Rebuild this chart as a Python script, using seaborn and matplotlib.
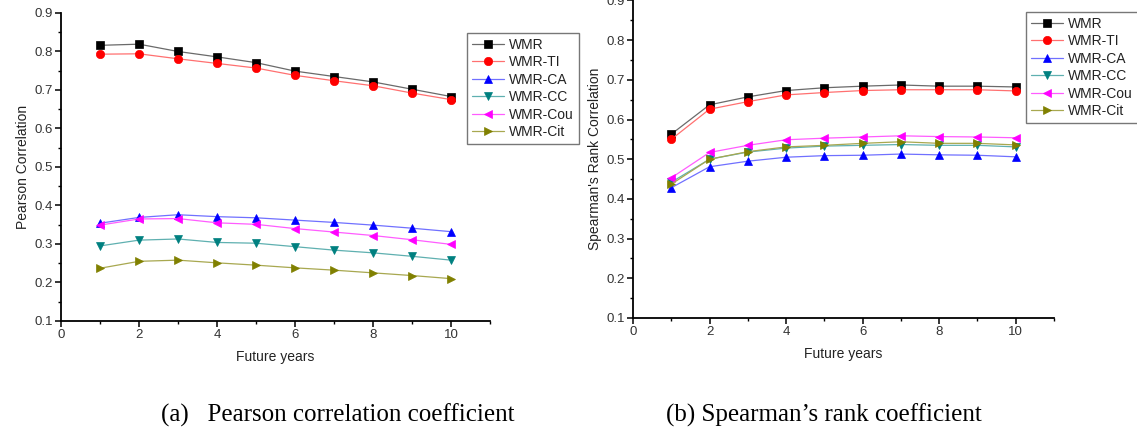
import numpy as np
import pandas as pd
import matplotlib
matplotlib.use("Agg")
import matplotlib.pyplot as plt
import seaborn as sns
from matplotlib.ticker import MultipleLocator

years = [1, 2, 3, 4, 5, 6, 7, 8, 9, 10]
series_names = ["WMR", "WMR-TI", "WMR-CA", "WMR-CC", "WMR-Cou", "WMR-Cit"]

# (a) Pearson correlation
pearson_wmr = [0.816, 0.819, 0.800, 0.786, 0.771, 0.749, 0.735, 0.721, 0.702, 0.683]
pearson_ti = [0.793, 0.794, 0.781, 0.769, 0.757, 0.738, 0.724, 0.711, 0.692, 0.675]
pearson_ca = [0.354, 0.369, 0.376, 0.371, 0.368, 0.362, 0.356, 0.349, 0.341, 0.332]
pearson_cc = [0.295, 0.310, 0.313, 0.304, 0.302, 0.293, 0.284, 0.277, 0.268, 0.258]
pearson_cou = [0.349, 0.365, 0.366, 0.355, 0.351, 0.340, 0.331, 0.322, 0.311, 0.299]
pearson_cit = [0.237, 0.255, 0.258, 0.251, 0.245, 0.238, 0.232, 0.225, 0.218, 0.210]

# (b) Spearman's rank correlation
spearman_wmr = [0.563, 0.637, 0.657, 0.673, 0.680, 0.684, 0.687, 0.684, 0.684, 0.682]
spearman_ti = [0.550, 0.626, 0.645, 0.662, 0.668, 0.673, 0.675, 0.675, 0.675, 0.672]
spearman_ca = [0.428, 0.481, 0.495, 0.505, 0.509, 0.510, 0.513, 0.511, 0.510, 0.506]
spearman_cc = [0.442, 0.500, 0.518, 0.528, 0.533, 0.535, 0.537, 0.535, 0.535, 0.531]
spearman_cou = [0.453, 0.517, 0.535, 0.549, 0.553, 0.556, 0.559, 0.557, 0.556, 0.554]
spearman_cit = [0.437, 0.500, 0.519, 0.531, 0.535, 0.540, 0.544, 0.540, 0.540, 0.536]

x_ticks = [0, 2, 4, 6, 8, 10]
y_ticks = [0.1, 0.2, 0.3, 0.4, 0.5, 0.6, 0.7, 0.8, 0.9]

sns.set_theme(style="white")
plt.rcParams["font.family"] = ["Liberation Sans", "DejaVu Sans"]

marker_colors = ["#000000", "#ff0000", "#0000ff", "#008080", "#ff00ff", "#808000"]
line_colors = ["#6a6a6a", "#ff7070", "#7070ff", "#5fb0b0", "#ff5cff", "#a8a850"]
markers = ["s", "o", "^", "v", "<", ">"]

fig = plt.figure(figsize=(11.37, 4.33), dpi=100)
ax1 = fig.add_axes([0.0537, 0.2587, 0.3773, 0.7113])
ax2 = fig.add_axes([0.5567, 0.2656, 0.3703, 0.7334])

def draw(ax, values, ylabel, legend_anchor, legend_fs):
    for name, vals, mc, lc, mk in zip(series_names, values, marker_colors, line_colors, markers):
        df = pd.DataFrame({"year": years, "value": vals})
        sns.lineplot(data=df, x="year", y="value", ax=ax, color=lc, linewidth=0.9,
                     marker=mk, markersize=6, markerfacecolor=mc, markeredgecolor=mc,
                     markeredgewidth=0.5, label=name, legend=False)
    ax.set_xlim(0, 11)
    ax.set_ylim(0.1, 0.9)
    ax.set_xticks(x_ticks)
    ax.set_yticks(y_ticks)
    ax.set_xticklabels([str(t) for t in x_ticks])
    ax.set_yticklabels([f"{t:.1f}" for t in y_ticks])
    ax.xaxis.set_minor_locator(MultipleLocator(1))
    ax.yaxis.set_minor_locator(MultipleLocator(0.05))
    for s in ["top", "right"]:
        ax.spines[s].set_visible(False)
    for s in ["left", "bottom"]:
        ax.spines[s].set_color("black")
        ax.spines[s].set_linewidth(1.3)
    ax.tick_params(which="major", direction="out", length=4, width=1.1, color="black",
                   labelsize=9.5, labelcolor="#333333", pad=2, bottom=True, left=True)
    ax.tick_params(which="minor", direction="out", length=2.5, width=1.0, color="black",
                   bottom=True, left=True)
    ax.set_xlabel("Future years", fontsize=10, color="#222222", labelpad=6)
    ax.set_ylabel(ylabel, fontsize=10, color="#222222", labelpad=3)
    handles, labels = ax.get_legend_handles_labels()
    leg = fig.legend(handles, labels, loc="upper left", bbox_to_anchor=legend_anchor,
                     bbox_transform=fig.transFigure, fontsize=legend_fs, frameon=True,
                     fancybox=False, edgecolor="#555555", handlelength=2.3,
                     labelspacing=0.25, borderpad=0.35, handletextpad=0.4,
                     borderaxespad=0.0)
    leg.get_frame().set_linewidth(1.0)
    for t in leg.get_texts():
        t.set_color("#222222")

draw(ax1, [pearson_wmr, pearson_ti, pearson_ca, pearson_cc, pearson_cou, pearson_cit],
     "Pearson Correlation", (0.4107, 0.9238), 10)
draw(ax2, [spearman_wmr, spearman_ti, spearman_ca, spearman_cc, spearman_cou, spearman_cit],
     "Spearman's Rank Correlation", (0.9024, 0.9723), 10)

fig.text(338 / 1137, 1 - 422 / 433, "(a)   Pearson correlation coefficient", ha="center",
         va="baseline", fontsize=18, family=["Liberation Serif", "DejaVu Serif"], color="black")
fig.text(824 / 1137, 1 - 422 / 433, "(b) Spearman\u2019s rank coefficient", ha="center",
         va="baseline", fontsize=18, family=["Liberation Serif", "DejaVu Serif"], color="black")

fig.savefig("out.png", dpi=100)
